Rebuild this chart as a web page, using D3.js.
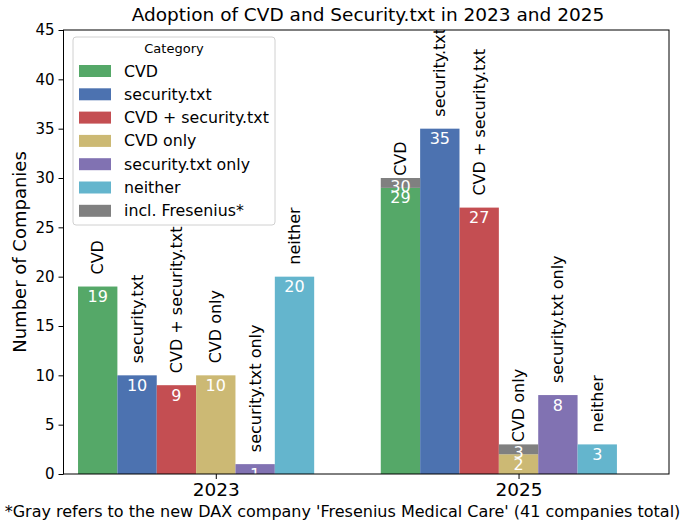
<!DOCTYPE html>
<html>
<head>
<meta charset="utf-8">
<script src="https://cdn.jsdelivr.net/npm/d3@7"></script>
<style>
  body { margin: 0; background: #fff; }
  svg { display: block; font-family: "DejaVu Sans", sans-serif; }
</style>
</head>
<body>
<div id="chart"></div>
<script>
// Data
const years = ['2023', '2025'];
const categories = ['CVD', 'security.txt', 'CVD + security.txt', 'CVD only', 'security.txt only', 'neither'];
const values2023 = [19, 10, 9, 10, 1, 20];
const values2025 = [29, 35, 27, 2, 8, 3];
// extra company (Fresenius) stacked in gray on top, 2025 only
const fresenius2025 = [1, 0, 0, 1, 0, 0];
const yTicks = [0, 5, 10, 15, 20, 25, 30, 35, 40, 45];

const colors = ['#55A868', '#4C72B0', '#C44E52', '#CCB974', '#8172B2', '#64B5CD'];
const grayColor = '#808080';

const width = 689, height = 524;
const margin = { top: 30, right: 20, bottom: 50, left: 63.5 };

const svg = d3.select('#chart').append('svg')
  .attr('width', width)
  .attr('height', height);

// bar width in data units, tick sits on the 4th bar of each group
const barW = 0.13;
const x = d3.scaleLinear()
  .domain([-0.503, 1.497])
  .range([margin.left, width - margin.right]);
const y = d3.scaleLinear()
  .domain([0, 45])
  .range([height - margin.bottom, margin.top]);

svg.append('defs').append('clipPath').attr('id', 'plot-clip')
  .append('rect')
  .attr('x', x.range()[0]).attr('y', y.range()[1])
  .attr('width', x.range()[1] - x.range()[0])
  .attr('height', y.range()[0] - y.range()[1]);

const rows = [];
years.forEach((yr, yi) => {
  const vals = yi === 0 ? values2023 : values2025;
  categories.forEach((cat, ci) => {
    rows.push({
      year: yr, cat: cat, ci: ci,
      value: vals[ci],
      extra: yi === 1 ? fresenius2025[ci] : 0,
      pos: yi + (ci - 3) * barW
    });
  });
});

const plot = svg.append('g').attr('clip-path', 'url(#plot-clip)');

// main bars
plot.selectAll('rect.bar')
  .data(rows)
  .enter()
  .append('rect')
  .attr('class', 'bar')
  .attr('x', d => x(d.pos - barW / 2))
  .attr('width', d => x(barW) - x(0))
  .attr('y', d => y(d.value))
  .attr('height', d => y(0) - y(d.value))
  .attr('fill', d => colors[d.ci]);

// gray Fresenius segments
const extras = rows.filter(d => d.extra > 0);
plot.selectAll('rect.extra')
  .data(extras)
  .enter()
  .append('rect')
  .attr('x', d => x(d.pos - barW / 2))
  .attr('width', d => x(barW) - x(0))
  .attr('y', d => y(d.value + d.extra))
  .attr('height', d => y(d.value) - y(d.value + d.extra))
  .attr('fill', grayColor);

// value labels inside bars
plot.selectAll('text.val')
  .data(rows)
  .enter()
  .append('text')
  .attr('x', d => x(d.pos))
  .attr('y', d => y(d.value) + 10)
  .attr('dy', '0.35em')
  .attr('text-anchor', 'middle')
  .attr('fill', '#fff')
  .style('font-size', '16px')
  .text(d => d.value);

plot.selectAll('text.extraval')
  .data(extras)
  .enter()
  .append('text')
  .attr('x', d => x(d.pos))
  .attr('y', d => y(d.value + d.extra) + 8)
  .attr('dy', '0.35em')
  .attr('text-anchor', 'middle')
  .attr('fill', '#fff')
  .style('font-size', '16px')
  .text(d => d.value + d.extra);

// rotated category labels above bars
plot.selectAll('text.cat')
  .data(rows)
  .enter()
  .append('text')
  .attr('transform', d => `translate(${x(d.pos) + 5.5},${y(d.value) - 12}) rotate(-90)`)
  .attr('text-anchor', 'start')
  .attr('fill', '#000')
  .style('font-size', '16px')
  .text(d => d.cat);

// axes
const yAxis = svg.append('g')
  .attr('transform', `translate(${margin.left},0)`)
  .call(d3.axisLeft(y).tickValues(yTicks).tickSize(5).tickPadding(4));
yAxis.select('.domain').remove();
yAxis.selectAll('text').style('font-size', '15px').attr('fill', '#000').style('font-family', 'DejaVu Sans');

const xAxis = svg.append('g')
  .attr('transform', `translate(0,${y(0)})`)
  .call(d3.axisBottom(x).tickValues([0, 1]).tickFormat(i => years[i]).tickSize(5).tickPadding(4));
xAxis.select('.domain').remove();
xAxis.selectAll('text').style('font-size', '18.5px').attr('fill', '#000').style('font-family', 'DejaVu Sans');

// frame
svg.append('rect')
  .attr('x', x.range()[0]).attr('y', y.range()[1])
  .attr('width', x.range()[1] - x.range()[0])
  .attr('height', y.range()[0] - y.range()[1])
  .attr('fill', 'none')
  .attr('stroke', '#000')
  .attr('stroke-width', 1);

// title and labels
svg.append('text')
  .attr('x', 368)
  .attr('y', 21)
  .attr('text-anchor', 'middle')
  .style('font-size', '18.5px')
  .text('Adoption of CVD and Security.txt in 2023 and 2025');

svg.append('text')
  .attr('transform', `translate(26,${(y.range()[0] + y.range()[1]) / 2}) rotate(-90)`)
  .attr('text-anchor', 'middle')
  .style('font-size', '18px')
  .text('Number of Companies');

svg.append('text')
  .attr('x', width / 2 - 2)
  .attr('y', 517)
  .attr('text-anchor', 'middle')
  .style('font-size', '16px')
  .text("*Gray refers to the new DAX company 'Fresenius Medical Care' (41 companies total)");

// legend
const legendItems = categories.concat(['incl. Fresenius*']);
const legendColors = colors.concat([grayColor]);
const lg = svg.append('g').attr('transform', 'translate(73,37)');
lg.append('rect')
  .attr('width', 202).attr('height', 188)
  .attr('rx', 3)
  .attr('fill', 'rgba(255,255,255,0.8)')
  .attr('stroke', '#d0d0d0');
lg.append('text')
  .attr('x', 101).attr('y', 16)
  .attr('text-anchor', 'middle')
  .style('font-size', '13px')
  .text('Category');
const li = lg.selectAll('g.item')
  .data(legendItems)
  .enter()
  .append('g')
  .attr('transform', (d, i) => `translate(6,${34 + i * 23.3})`);
li.append('rect')
  .attr('y', -6).attr('width', 32).attr('height', 12)
  .attr('fill', (d, i) => legendColors[i]);
li.append('text')
  .attr('x', 45).attr('dy', '0.35em')
  .style('font-size', '15.8px')
  .text(d => d);
</script>
</body>
</html>
